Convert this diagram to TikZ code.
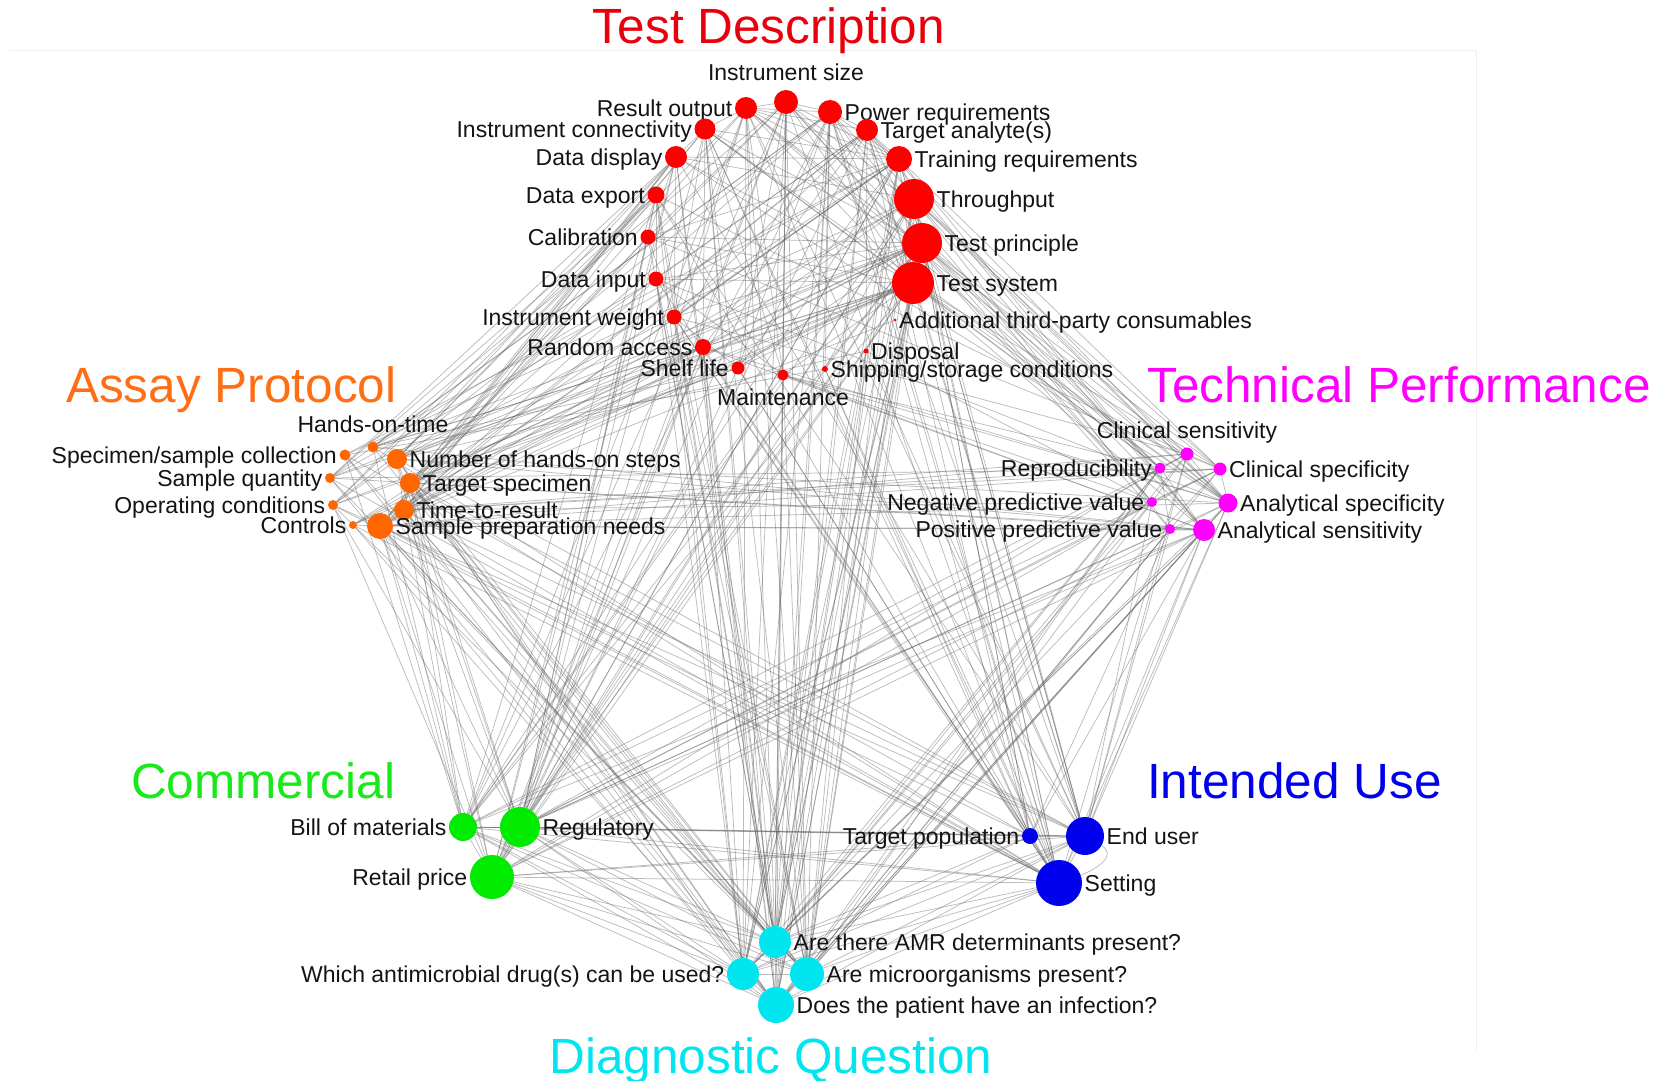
\documentclass[tikz,border=0pt]{standalone}
\usepackage{fontspec}
\setmainfont{Liberation Sans}
\pgfdeclarelayer{background}
\pgfdeclarelayer{edges}
\pgfsetlayers{background,edges,main}

% group colours
\definecolor{tdred}{RGB}{255,0,0}
\definecolor{tdtitle}{RGB}{232,0,12}
\definecolor{aporange}{RGB}{255,102,0}
\definecolor{aptitle}{RGB}{255,110,20}
\definecolor{tpmag}{RGB}{255,0,255}
\definecolor{cmgreen}{RGB}{0,235,0}
\definecolor{cmtitle}{RGB}{25,232,25}
\definecolor{iublue}{RGB}{0,0,238}
\definecolor{dqcyan}{RGB}{0,230,240}
\definecolor{lbltext}{RGB}{20,20,20}

\newcommand\lblfont{\fontsize{23}{26}\selectfont}
\newcommand\ttlfont{\fontsize{49.5}{55}\selectfont}

\tikzset{
  dot/.style={circle, inner sep=0pt, outer sep=0pt, draw=none, minimum size={2*#1}},
  every label/.style={font=\lblfont, text=lbltext, inner sep=1pt,
                      text height=16.5pt, text depth=0pt},
  label distance=1.5pt,
  edge/.style={draw=black!62, line width=0.75pt, opacity=0.42},
  grouptitle/.style={font=\ttlfont, inner sep=0pt},
}

% \putdot{name}{colour}{x}{y}{radius}{label side}{label text}
\newcommand\putdot[7]{%
  \node[dot=#5, fill=#2, label={#6:{#7}}] (#1) at (#3,#4) {};}

% node names with their connection weights
\def\netnodes{tdsize/0.62, tdres/0.62, tdpow/0.62, tdconn/0.58, tdana/0.62,
  tddisp/0.62, tdtrain/0.68, tdexp/0.5, tdthru/1, tdcal/0.45, tdprin/1,
  tdinp/0.45, tdsys/1, tdwt/0.45, tdadd/0.15, tdrand/0.5, tddspl/0.2,
  tdshelf/0.4, tdmaint/0.36, tdship/0.25,
  apho/0.38, apspec/0.38, apsteps/0.62, apqty/0.33, aptarg/0.62, apop/0.33,
  apttr/0.62, apctrl/0.28, apprep/0.78,
  tpcsens/0.42, tprep/0.38, tpcspec/0.42, tpnpv/0.33, tpaspec/0.58,
  tpppv/0.33, tpasens/0.68,
  cmbom/0.8, cmreg/1, cmret/1,
  iutp/0.52, iueu/0.95, iuset/1,
  dqamr/0.92, dqwhich/0.92, dqmicro/0.92, dqinf/0.95}

\begin{document}
\begin{tikzpicture}[x=1pt,y=-1pt]
\useasboundingbox (0,0) rectangle (1665,1081);
\begin{pgfonlayer}{background}
  \fill[white] (0,0) rectangle (1665,1081);
  \draw[black!6, line width=1pt] (10,51) -- (1476,51) -- (1476,1050);
\end{pgfonlayer}

% group titles
\node[grouptitle, text=tdtitle, anchor=base] (ttd) at (769,44) {Test Description};
\node[grouptitle, text=aptitle, anchor=base west] (tap) at (66,402) {Assay Protocol};
\node[grouptitle, text=tpmag, anchor=base west] (ttp) at (1147,402) {Technical Performance};
\node[grouptitle, text=cmtitle, anchor=base west] (tcm) at (131,798) {Commercial};
\node[grouptitle, text=iublue, anchor=base west] (tiu) at (1147,798) {Intended Use};
\node[grouptitle, text=dqcyan, anchor=base] (tdq) at (771,1073) {Diagnostic Question};

% Test Description
\putdot{tdsize}{tdred}{786}{102}{12}{[label distance=8pt]above}{Instrument size}
\putdot{tdres}{tdred}{746}{108}{11}{left}{Result output}
\putdot{tdpow}{tdred}{830}{112}{12}{right}{Power requirements}
\putdot{tdconn}{tdred}{705}{129}{10.5}{left}{Instrument connectivity}
\putdot{tdana}{tdred}{867}{130}{11}{right}{Target analyte(s)}
\putdot{tddisp}{tdred}{676}{157}{11}{left}{Data display}
\putdot{tdtrain}{tdred}{899}{159}{13}{right}{Training requirements}
\putdot{tdexp}{tdred}{656}{195}{8.5}{left}{Data export}
\putdot{tdthru}{tdred}{914}{199}{20}{right}{Throughput}
\putdot{tdcal}{tdred}{648}{237}{7.5}{left}{Calibration}
\putdot{tdprin}{tdred}{922}{243}{20}{right}{Test principle}
\putdot{tdinp}{tdred}{656}{279}{7.5}{left}{Data input}
\putdot{tdsys}{tdred}{913}{283}{21}{right}{Test system}
\putdot{tdwt}{tdred}{674}{317}{7.5}{left}{Instrument weight}
\putdot{tdadd}{tdred}{895}{320}{1.5}{right}{Additional third-party consumables}
\putdot{tdrand}{tdred}{703}{347}{8}{left}{Random access}
\putdot{tddspl}{tdred}{866}{351}{2.5}{right}{Disposal}
\putdot{tdshelf}{tdred}{738}{368}{6.5}{left}{Shelf life}
\putdot{tdmaint}{tdred}{783}{375}{5.5}{[label distance=7pt]below}{Maintenance}
\putdot{tdship}{tdred}{825}{369}{3}{right}{Shipping/storage conditions}

% Assay Protocol
\putdot{apho}{aporange}{373}{447}{5.5}{[label distance=8pt]above}{Hands-on-time}
\putdot{apspec}{aporange}{345}{455}{5.5}{left}{Specimen/sample collection}
\putdot{apsteps}{aporange}{397}{459}{10}{right}{Number of hands-on steps}
\putdot{apqty}{aporange}{330}{478}{5}{left}{Sample quantity}
\putdot{aptarg}{aporange}{410}{483}{10}{right}{Target specimen}
\putdot{apop}{aporange}{333}{505}{5}{left}{Operating conditions}
\putdot{apttr}{aporange}{404}{510}{10}{right}{Time-to-result}
\putdot{apctrl}{aporange}{353}{525}{4}{left}{Controls}
\putdot{apprep}{aporange}{380}{526}{13}{right}{Sample preparation needs}

% Technical Performance
\putdot{tpcsens}{tpmag}{1187}{454}{6.5}{[label distance=8pt]above}{Clinical sensitivity}
\putdot{tprep}{tpmag}{1160}{468}{5.5}{left}{Reproducibility}
\putdot{tpcspec}{tpmag}{1220}{469}{6.5}{right}{Clinical specificity}
\putdot{tpnpv}{tpmag}{1152}{502}{5}{left}{Negative predictive value}
\putdot{tpaspec}{tpmag}{1228}{503}{9.5}{right}{Analytical specificity}
\putdot{tpppv}{tpmag}{1170}{529}{5}{left}{Positive predictive value}
\putdot{tpasens}{tpmag}{1204}{530}{11}{right}{Analytical sensitivity}

% Commercial
\putdot{cmbom}{cmgreen}{463}{827}{14}{left}{Bill of materials}
\putdot{cmreg}{cmgreen}{520}{827}{20}{right}{Regulatory}
\putdot{cmret}{cmgreen}{492}{877}{22}{left}{Retail price}

% Intended Use
\putdot{iutp}{iublue}{1030}{836}{8}{left}{Target population}
\putdot{iueu}{iublue}{1085}{836}{19}{right}{End user}
\putdot{iuset}{iublue}{1059}{883}{23}{right}{Setting}

% Diagnostic Question
\putdot{dqamr}{dqcyan}{775}{942}{16}{right}{Are there AMR determinants present?}
\putdot{dqwhich}{dqcyan}{743}{974}{16}{left}{Which antimicrobial drug(s) can be used?}
\putdot{dqmicro}{dqcyan}{807}{974}{17}{right}{Are microorganisms present?}
\putdot{dqinf}{dqcyan}{776}{1005}{18}{right}{Does the patient have an infection?}

% co-occurrence links, thinned by the product of the node weights
\begin{pgfonlayer}{edges}
  \pgfmathsetseed{2718}
  \foreach \a/\wa [count=\i] in \netnodes {
    \foreach \b/\wb [count=\j] in \netnodes {
      \ifnum\j>\i
        \pgfmathparse{rnd<1.2*\wa*\wb}
        \ifdim\pgfmathresult pt>0.5pt \draw[edge] (\a) -- (\b); \fi
      \fi
    }
  }
  \draw[edge] (iueu) to[out=-30, in=20, looseness=1.3] (iuset);
\end{pgfonlayer}
\end{tikzpicture}
\end{document}
